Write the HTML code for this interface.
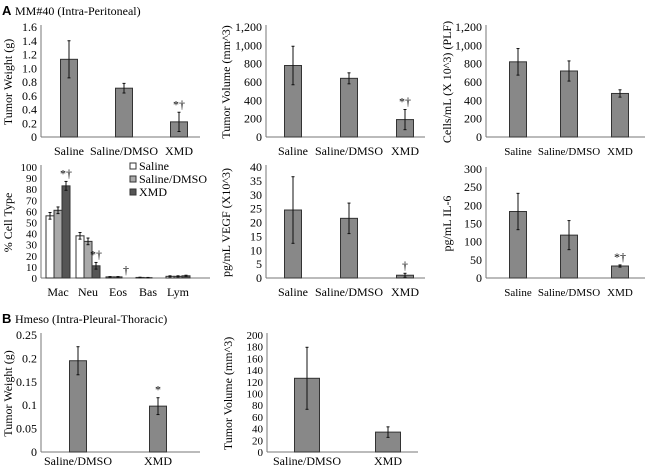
<!DOCTYPE html>
<html><head><meta charset="utf-8"><style>
html,body{margin:0;padding:0;background:#fff;}
svg{display:block;font-family:"Liberation Serif",serif;}
</style></head><body>
<svg id="fig" width="650" height="465" viewBox="0 0 650 465" xmlns="http://www.w3.org/2000/svg">
<text x="2" y="15" font-family="Liberation Sans,sans-serif" font-weight="bold" font-size="13">A</text>
<text x="15" y="15" font-size="12">MM#40 (Intra-Peritoneal)</text>
<text x="2" y="323" font-family="Liberation Sans,sans-serif" font-weight="bold" font-size="13">B</text>
<text x="15" y="323" font-size="12">Hmeso (Intra-Pleural-Thoracic)</text>
</svg>
<script>
// ---- data ----
const cats3 = ["Saline","Saline/DMSO","XMD"];
const cats2 = ["Saline/DMSO","XMD"];
const weightVals = [1.13,0.71,0.22]; const weightErr = [0.27,0.07,0.14];
const volVals = [780,640,190]; const volErr = [210,60,110];
const cellVals = [820,720,475]; const cellErr = [145,110,40];
const vegfVals = [24.5,21.5,1]; const vegfErr = [12,5.5,0.7];
const il6Vals = [183,118,33]; const il6Err = [50,40,3];
const cellTypes = ["Mac","Neu","Eos","Bas","Lym"];
const salineType = [56,38,1,0.5,1.5]; const salineTypeErr=[3,3,0.3,0.2,0.5];
const dmsoType = [61,33,1,0.3,1.5]; const dmsoTypeErr=[3,3,0.3,0.2,0.5];
const xmdType = [83,11,0,0,2]; const xmdTypeErr=[4,3,0,0,0.5];
const hWeightVals=[0.195,0.098]; const hWeightErr=[0.03,0.018];
const hVolVals=[126,34]; const hVolErr=[53,9];
const weightTicks=["0","0.2","0.4","0.6","0.8","1.0","1.2","1.4","1.6"];
const volTicks=["0","200","400","600","800","1,000","1,200"];
const vegfTicks=["0","5","10","15","20","25","30","35","40"];
const il6Ticks=["0","50","100","150","200","250","300"];
const pctTicks=["0","10","20","30","40","50","60","70","80","90","100"];
const hwTicks=["0","0.05","0.1","0.15","0.2","0.25"];
const hvTicks=["0","20","40","60","80","100","120","140","160","180","200"];

const svg=document.getElementById('fig');
const NS="http://www.w3.org/2000/svg";
function mk(tag,attrs,parent){const e=document.createElementNS(NS,tag);for(const k in attrs)e.setAttribute(k,attrs[k]);(parent||svg).appendChild(e);return e;}
function txt(x,y,s,size,anchor,parent){const t=mk('text',{x:x,y:y,'font-size':size,'text-anchor':anchor},parent);t.textContent=s;return t;}

function chart(o){
  const g=mk('g',{});
  
  
  const maxV=parseFloat(o.ticks[o.ticks.length-1].replace(/,/g,''));
  const y=v=>o.y0-(v/maxV)*(o.y0-o.y1);
  const x=i=>o.xc[0]+i*(o.xc[1]-o.xc[0]);
  const ax=mk('line',{x1:o.ax,y1:o.y1-2,x2:o.ax,y2:o.y0,stroke:'#777','stroke-width':1},g);
  
  const bx=mk('line',{x1:o.ax,y1:o.y0,x2:o.xe,y2:o.y0,stroke:'#777','stroke-width':1},g);
  
  o.ticks.forEach(t=>{
    const v=parseFloat(t.replace(/,/g,''));
    const l=txt(o.ax-4,y(v)+4,t,o.tfs||12,'end',g);
    
  });
  const yt=txt(0,0,o.ytitle,12,'middle',g);
  yt.setAttribute('transform','translate('+o.ytx+','+((o.y0+o.y1)/2)+') rotate(-90)');
  
  o.cats.forEach((c,i)=>{
    const l=txt(x(i),o.y0+(o.lo||18),c,o.xfs||12,'middle',g);
    
  });
  o.series.forEach((s,si)=>{
    s.vals.forEach((v,i)=>{
      const cx=x(i)+(si-(o.series.length-1)/2)*o.bw;
      const r=mk('rect',{x:cx-o.bw/2,y:y(v),width:o.bw,height:Math.max(0,o.y0-y(v)),fill:s.fill,stroke:'#333','stroke-width':1},g);
      
      
      const e=s.err[i];
      if(e>0){
        mk('line',{x1:cx,y1:y(v+e),x2:cx,y2:y(v-e),stroke:'#111','stroke-width':1},g);
        mk('line',{x1:cx-1.5,y1:y(v+e),x2:cx+1.5,y2:y(v+e),stroke:'#111'},g);
        mk('line',{x1:cx-1.5,y1:y(v-e),x2:cx+1.5,y2:y(v-e),stroke:'#111'},g);
      }
    });
  });
  (o.marks||[]).forEach(m=>{
    const s=o.series[m.s||0];
    const cx=x(m.i)+((m.s||0)-(o.series.length-1)/2)*o.bw;
    const t=txt(cx,y(s.vals[m.i]+s.err[m.i])-4,m.t,12,'middle',g);
    
  });
  return g;
}
const G='#888';
chart({name:'tumor-weight-chart',ax:41,xe:200,y0:137,y1:27,xc:[69,124],bw:17,cats:cats3,ticks:weightTicks,ytitle:'Tumor Weight (g)',ytx:12,series:[{vals:weightVals,err:weightErr,fill:G}],marks:[{i:2,t:'*†'}]});
chart({name:'tumor-volume-chart',ax:266,xe:425,y0:137,y1:27,xc:[293,349],bw:17,cats:cats3,ticks:volTicks,ytitle:'Tumor Volume (mm^3)',ytx:230,series:[{vals:volVals,err:volErr,fill:G}],marks:[{i:2,t:'*†'}]});
chart({name:'cells-per-ml-chart',ax:486,xe:645,y0:137,y1:27,xc:[518,569],bw:17,xfs:11,cats:cats3,ticks:volTicks,ytitle:'Cells/mL (X 10^3) (PLF)',ytx:451,series:[{vals:cellVals,err:cellErr,fill:G}]});
chart({name:'cell-type-chart',ax:41,xe:210,y0:278,y1:167,xc:[58,88],bw:8,cats:cellTypes,ticks:pctTicks,ytitle:'% Cell Type',ytx:12,tfs:11,
  series:[{vals:salineType,err:salineTypeErr,fill:'#fff'},{vals:dmsoType,err:dmsoTypeErr,fill:'#aaa'},{vals:xmdType,err:xmdTypeErr,fill:'#555'}],
  marks:[{i:0,s:2,t:'*†'},{i:1,s:2,t:'*†'},{i:2,s:2,t:'†'}]});
chart({name:'vegf-chart',ax:266,xe:425,y0:278,y1:167,xc:[293,349],bw:17,cats:cats3,ticks:vegfTicks,ytitle:'pg/mL VEGF (X10^3)',ytx:230,series:[{vals:vegfVals,err:vegfErr,fill:G}],marks:[{i:2,t:'†'}]});
chart({name:'il6-chart',ax:486,xe:645,y0:278,y1:169,xc:[518,569],bw:17,xfs:11,cats:cats3,ticks:il6Ticks,ytitle:'pg/mL IL-6',ytx:451,series:[{vals:il6Vals,err:il6Err,fill:G}],marks:[{i:2,t:'*†'}]});
chart({name:'hmeso-weight-chart',ax:41,xe:200,y0:452,y1:335,xc:[78,158],bw:17,lo:13,cats:cats2,ticks:hwTicks,ytitle:'Tumor Weight (g)',ytx:12,series:[{vals:hWeightVals,err:hWeightErr,fill:G}],marks:[{i:1,t:'*'}]});
chart({name:'hmeso-volume-chart',ax:267,xe:418,y0:452,y1:335,xc:[307,388],bw:25,lo:13,cats:cats2,ticks:hvTicks,ytitle:'Tumor Volume (mm^3)',ytx:232,tfs:11,series:[{vals:hVolVals,err:hVolErr,fill:G}]});
const lg=mk('g',{});


[["Saline","#fff"],["Saline/DMSO","#aaa"],["XMD","#555"]].forEach((d,i)=>{
  mk('rect',{x:130,y:163+i*13,width:6,height:6,fill:d[1],stroke:'#333'},lg);
  const t=txt(139,170+i*13,d[0],12,'start',lg);
  
  
});
</script>
</body></html>
